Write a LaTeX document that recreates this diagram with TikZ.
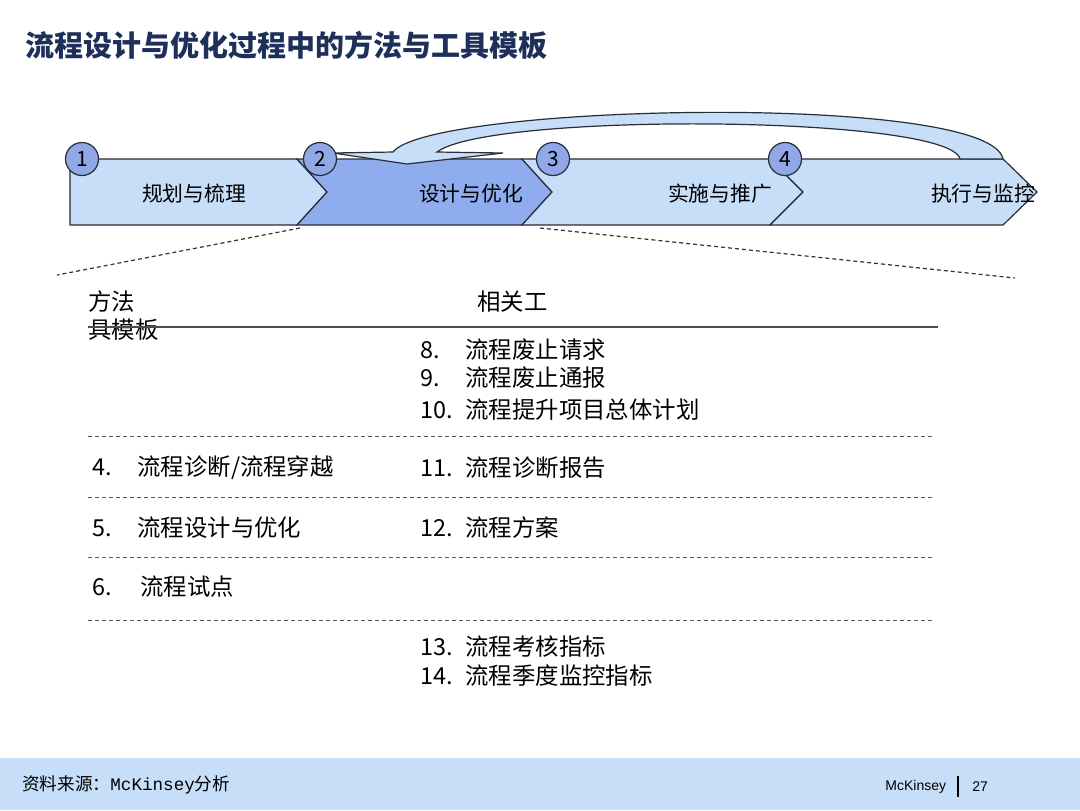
\documentclass[tikz,border=0pt]{standalone}
\usepackage{fontspec}
\setmainfont{Noto Sans CJK SC}
\newfontfamily\monofnt{Liberation Mono}
\newfontfamily\latinsans{Liberation Sans}
\usetikzlibrary{calc}

\definecolor{navy}{RGB}{30,48,90}
\definecolor{pale}{RGB}{198,222,248}
\definecolor{mid}{RGB}{143,172,238}
\definecolor{dotfill}{RGB}{145,168,232}
\definecolor{edge}{RGB}{40,45,55}

\newcommand{\itm}[2]{\makebox[22.5pt][l]{#1}#2}

\begin{document}
\begin{tikzpicture}[
  x=0.5pt, y=-0.5pt,
  chev/.style={draw=edge, line width=0.6pt, fill=pale},
  chevdark/.style={chev, fill=mid},
  num/.style={circle, draw=edge, line width=0.6pt, fill=dotfill,
              minimum size=16.5pt, inner sep=0pt, font=\fontsize{10.5}{12}\selectfont},
  phase/.style={inner sep=0pt, font=\fontsize{10.4}{12}\selectfont},
  item/.style={anchor=west, inner sep=0pt, font=\fontsize{11.7}{14}\selectfont},
  sep/.style={draw=black!65, line width=0.5pt, dash pattern=on 2pt off 1.5pt},
  zoomln/.style={draw=black!80, line width=0.6pt, dash pattern=on 2pt off 1.5pt}
]
\useasboundingbox (0,0) rectangle (1080,810);

% ---- title
\node[anchor=west, inner sep=0pt, text=navy, font=\fontsize{14.5}{17}\selectfont\bfseries]
  (title) at (25,45) {流程设计与优化过程中的方法与工具模板};

% ---- phase chevrons
\draw[chev] (70,159) -- (297,159) -- (327,192) -- (297,225) -- (70,225) -- cycle;
\draw[chevdark] (297,159) -- (522,159) -- (552,192) -- (522,225) -- (297,225) -- (327,192) -- cycle;
\draw[chev] (522,159) -- (770,159) -- (803,192) -- (770,225) -- (522,225) -- (552,192) -- cycle;
\draw[chev] (770,159) -- (1003,159) -- (1037,192) -- (1003,225) -- (770,225) -- (803,192) -- cycle;

% ---- curved return arrow from phase 4 back to phase 2
\draw[chev] (333,153) -- (393,152) .. controls (430,104) and (990,92) .. (1003,159)
  -- (960,159) .. controls (950,115) and (490,112) .. (437,152)
  -- (503,153) -- (407,164) -- cycle;

\node[phase] (p1) at (194,194) {规划与梳理};
\node[phase] (p2) at (471,194) {设计与优化};
\node[phase] (p3) at (720,194) {实施与推广};
\node[phase] (p4) at (983,194) {执行与监控};

\node[num] (n1) at (82,159)  {1};
\node[num] (n2) at (320,159) {2};
\node[num] (n3) at (553,159) {3};
\node[num] (n4) at (785,159) {4};

% ---- zoom lines under phase 2
\coordinate (zl0) at (300,228);
\coordinate (zl1) at (57,275);
\coordinate (zr0) at (540,228);
\coordinate (zr1) at (1015,278);
\draw[zoomln] (zl0) -- (zl1);
\draw[zoomln] (zr0) -- (zr1);

% ---- table
\node[item] (h1a) at (88,302) {方法};
\node[item] (h1b) at (88,330) {具模板};
\node[item] (h2)  at (477,302) {相关工};
\draw[draw=black!70, line width=0.6pt] (88,327) -- (938,327);

\node[item] (t8)  at (420,350) {\itm{8.}{流程废止请求}};
\node[item] (t9)  at (420,378) {\itm{9.}{流程废止通报}};
\node[item] (t10) at (420,410) {\itm{10.}{流程提升项目总体计划}};

\node[item] (m4)  at (92,468)  {\itm{4.}{流程诊断/流程穿越}};
\node[item] (t11) at (420,468) {\itm{11.}{流程诊断报告}};

\node[item] (m5)  at (92,528)  {\itm{5.}{流程设计与优化}};
\node[item] (t12) at (420,528) {\itm{12.}{流程方案}};

\node[item] (m6)  at (92,587)  {\itm{6.}{\hspace{1.5pt}流程试点}};

\node[item] (t13) at (420,647) {\itm{13.}{流程考核指标}};
\node[item] (t14) at (420,676) {\itm{14.}{流程季度监控指标}};

\foreach \y in {436,497,557,620}
  \draw[sep] (88,\y) -- (935,\y);

% ---- footer
\fill[pale] (0,758) rectangle (1080,810);
\node[anchor=west, inner sep=0pt, font=\fontsize{8.8}{10}\selectfont]
  (src) at (22,785) {资料来源：{\monofnt McKinsey}分析};
\node[anchor=west, inner sep=0pt, font=\fontsize{7}{8}\selectfont\latinsans]
  (brand) at (885,787) {McKinsey};
\node[anchor=west, inner sep=0pt, font=\fontsize{7}{8}\selectfont\latinsans]
  (page) at (972,787) {27};
\coordinate (bar0) at (958,776);
\coordinate (bar1) at (958,797);
\draw[line width=0.6pt] (bar0) -- (bar1);
\end{tikzpicture}
\end{document}
